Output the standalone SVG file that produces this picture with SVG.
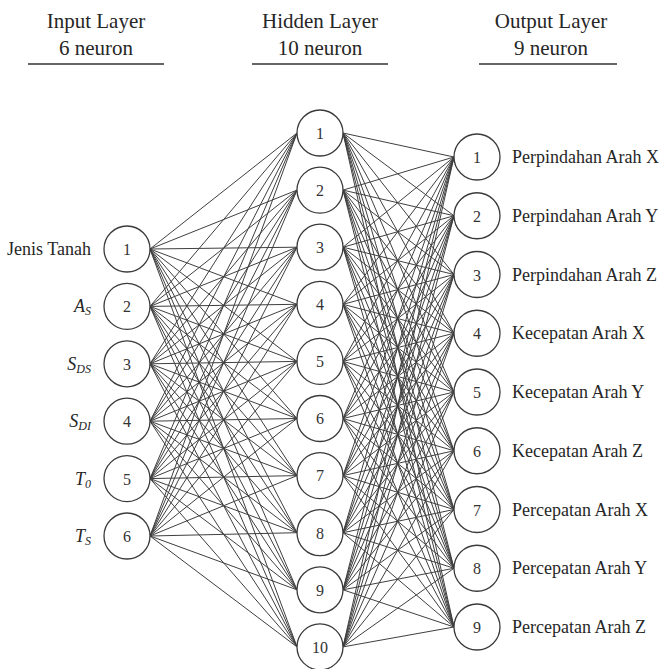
<svg xmlns="http://www.w3.org/2000/svg" width="663" height="669" viewBox="0 0 663 669">
  <style>
    text { font-family: "Liberation Serif", "Tinos", "DejaVu Serif", "Noto Serif", serif; }
    .hdr { font-size: 21px; fill: #262626; text-anchor: middle; }
    .rule { stroke: #333; stroke-width: 1.4; }
    .node circle { fill: #fff; stroke: #3a3a3a; stroke-width: 1.3; }
    .num { font-size: 16px; fill: #333; text-anchor: middle; }
    .lbl { font-size: 18px; fill: #262626; }
    .in { text-anchor: end; }
    .it { font-style: italic; }
    .sub { font-size: 12px; }
    .wire path { fill: none; stroke: #3f3f3f; stroke-width: 1; }
  </style>
  <rect width="663" height="669" fill="#fff"/>

  <!-- layer headings -->
  <g id="headings">
    <text class="hdr" x="96" y="28">Input Layer</text>
    <text class="hdr" x="96" y="55">6 neuron</text>
    <line class="rule" x1="28" y1="64" x2="164" y2="64"/>
    <text class="hdr" x="320" y="28">Hidden Layer</text>
    <text class="hdr" x="320" y="55">10 neuron</text>
    <line class="rule" x1="252" y1="64" x2="388" y2="64"/>
    <text class="hdr" x="551" y="28">Output Layer</text>
    <text class="hdr" x="551" y="55">9 neuron</text>
    <line class="rule" x1="479" y1="64" x2="617" y2="64"/>
  </g>

  <!-- connections: input -> hidden, hidden -> output -->
  <g id="connectors" class="wire">
    <path d="M150 249L297 133M150 249L297 190.1M150 249L297 247.2M150 249L297 304.3M150 249L297 361.4M150 249L297 418.5M150 249L297 475.6M150 249L297 532.7M150 249L297 589.8M150 249L297 646.9"/>
    <path d="M150 306.4L297 133M150 306.4L297 190.1M150 306.4L297 247.2M150 306.4L297 304.3M150 306.4L297 361.4M150 306.4L297 418.5M150 306.4L297 475.6M150 306.4L297 532.7M150 306.4L297 589.8M150 306.4L297 646.9"/>
    <path d="M150 363.8L297 133M150 363.8L297 190.1M150 363.8L297 247.2M150 363.8L297 304.3M150 363.8L297 361.4M150 363.8L297 418.5M150 363.8L297 475.6M150 363.8L297 532.7M150 363.8L297 589.8M150 363.8L297 646.9"/>
    <path d="M150 421.2L297 133M150 421.2L297 190.1M150 421.2L297 247.2M150 421.2L297 304.3M150 421.2L297 361.4M150 421.2L297 418.5M150 421.2L297 475.6M150 421.2L297 532.7M150 421.2L297 589.8M150 421.2L297 646.9"/>
    <path d="M150 478.6L297 133M150 478.6L297 190.1M150 478.6L297 247.2M150 478.6L297 304.3M150 478.6L297 361.4M150 478.6L297 418.5M150 478.6L297 475.6M150 478.6L297 532.7M150 478.6L297 589.8M150 478.6L297 646.9"/>
    <path d="M150 536L297 133M150 536L297 190.1M150 536L297 247.2M150 536L297 304.3M150 536L297 361.4M150 536L297 418.5M150 536L297 475.6M150 536L297 532.7M150 536L297 589.8M150 536L297 646.9"/>

    <path d="M343 133L454 157M343 133L454 215.75M343 133L454 274.5M343 133L454 333.25M343 133L454 392M343 133L454 450.75M343 133L454 509.5M343 133L454 568.25M343 133L454 627"/>
    <path d="M343 190.1L454 157M343 190.1L454 215.75M343 190.1L454 274.5M343 190.1L454 333.25M343 190.1L454 392M343 190.1L454 450.75M343 190.1L454 509.5M343 190.1L454 568.25M343 190.1L454 627"/>
    <path d="M343 247.2L454 157M343 247.2L454 215.75M343 247.2L454 274.5M343 247.2L454 333.25M343 247.2L454 392M343 247.2L454 450.75M343 247.2L454 509.5M343 247.2L454 568.25M343 247.2L454 627"/>
    <path d="M343 304.3L454 157M343 304.3L454 215.75M343 304.3L454 274.5M343 304.3L454 333.25M343 304.3L454 392M343 304.3L454 450.75M343 304.3L454 509.5M343 304.3L454 568.25M343 304.3L454 627"/>
    <path d="M343 361.4L454 157M343 361.4L454 215.75M343 361.4L454 274.5M343 361.4L454 333.25M343 361.4L454 392M343 361.4L454 450.75M343 361.4L454 509.5M343 361.4L454 568.25M343 361.4L454 627"/>
    <path d="M343 418.5L454 157M343 418.5L454 215.75M343 418.5L454 274.5M343 418.5L454 333.25M343 418.5L454 392M343 418.5L454 450.75M343 418.5L454 509.5M343 418.5L454 568.25M343 418.5L454 627"/>
    <path d="M343 475.6L454 157M343 475.6L454 215.75M343 475.6L454 274.5M343 475.6L454 333.25M343 475.6L454 392M343 475.6L454 450.75M343 475.6L454 509.5M343 475.6L454 568.25M343 475.6L454 627"/>
    <path d="M343 532.7L454 157M343 532.7L454 215.75M343 532.7L454 274.5M343 532.7L454 333.25M343 532.7L454 392M343 532.7L454 450.75M343 532.7L454 509.5M343 532.7L454 568.25M343 532.7L454 627"/>
    <path d="M343 589.8L454 157M343 589.8L454 215.75M343 589.8L454 274.5M343 589.8L454 333.25M343 589.8L454 392M343 589.8L454 450.75M343 589.8L454 509.5M343 589.8L454 568.25M343 589.8L454 627"/>
    <path d="M343 646.9L454 157M343 646.9L454 215.75M343 646.9L454 274.5M343 646.9L454 333.25M343 646.9L454 392M343 646.9L454 450.75M343 646.9L454 509.5M343 646.9L454 568.25M343 646.9L454 627"/>
  </g>

  <!-- input layer -->
  <g id="in1" class="node"><circle cx="127" cy="249" r="23"/><text class="num" x="127" y="255">1</text><text class="lbl in" x="91" y="255">Jenis Tanah</text></g>
  <g id="in2" class="node"><circle cx="127" cy="306.4" r="23"/><text class="num" x="127" y="312">2</text><text class="lbl in it" x="91" y="312">A<tspan class="sub" dy="3">S</tspan></text></g>
  <g id="in3" class="node"><circle cx="127" cy="363.8" r="23"/><text class="num" x="127" y="369.5">3</text><text class="lbl in it" x="91" y="369.5">S<tspan class="sub" dy="3">DS</tspan></text></g>
  <g id="in4" class="node"><circle cx="127" cy="421.2" r="23"/><text class="num" x="127" y="427">4</text><text class="lbl in it" x="91" y="427">S<tspan class="sub" dy="3">DI</tspan></text></g>
  <g id="in5" class="node"><circle cx="127" cy="478.6" r="23"/><text class="num" x="127" y="484.5">5</text><text class="lbl in it" x="91" y="484.5">T<tspan class="sub" dy="3">0</tspan></text></g>
  <g id="in6" class="node"><circle cx="127" cy="536" r="23"/><text class="num" x="127" y="542">6</text><text class="lbl in it" x="91" y="542">T<tspan class="sub" dy="3">S</tspan></text></g>

  <!-- hidden layer -->
  <g id="h1" class="node"><circle cx="320" cy="133" r="23"/><text class="num" x="320" y="139">1</text></g>
  <g id="h2" class="node"><circle cx="320" cy="190.1" r="23"/><text class="num" x="320" y="196">2</text></g>
  <g id="h3" class="node"><circle cx="320" cy="247.2" r="23"/><text class="num" x="320" y="253">3</text></g>
  <g id="h4" class="node"><circle cx="320" cy="304.3" r="23"/><text class="num" x="320" y="310">4</text></g>
  <g id="h5" class="node"><circle cx="320" cy="361.4" r="23"/><text class="num" x="320" y="367">5</text></g>
  <g id="h6" class="node"><circle cx="320" cy="418.5" r="23"/><text class="num" x="320" y="424">6</text></g>
  <g id="h7" class="node"><circle cx="320" cy="475.6" r="23"/><text class="num" x="320" y="481">7</text></g>
  <g id="h8" class="node"><circle cx="320" cy="532.7" r="23"/><text class="num" x="320" y="538.5">8</text></g>
  <g id="h9" class="node"><circle cx="320" cy="589.8" r="23"/><text class="num" x="320" y="595.5">9</text></g>
  <g id="h10" class="node"><circle cx="320" cy="646.9" r="23"/><text class="num" x="320" y="652.5">10</text></g>

  <!-- output layer -->
  <g id="out1" class="node"><circle cx="477" cy="157" r="23"/><text class="num" x="477" y="163">1</text><text class="lbl" x="512" y="163">Perpindahan Arah X</text></g>
  <g id="out2" class="node"><circle cx="477" cy="215.75" r="23"/><text class="num" x="477" y="221.5">2</text><text class="lbl" x="512" y="221.5">Perpindahan Arah Y</text></g>
  <g id="out3" class="node"><circle cx="477" cy="274.5" r="23"/><text class="num" x="477" y="280.5">3</text><text class="lbl" x="512" y="280.5">Perpindahan Arah Z</text></g>
  <g id="out4" class="node"><circle cx="477" cy="333.25" r="23"/><text class="num" x="477" y="339">4</text><text class="lbl" x="512" y="339">Kecepatan Arah X</text></g>
  <g id="out5" class="node"><circle cx="477" cy="392" r="23"/><text class="num" x="477" y="398">5</text><text class="lbl" x="512" y="398">Kecepatan Arah Y</text></g>
  <g id="out6" class="node"><circle cx="477" cy="450.75" r="23"/><text class="num" x="477" y="456.5">6</text><text class="lbl" x="512" y="456.5">Kecepatan Arah Z</text></g>
  <g id="out7" class="node"><circle cx="477" cy="509.5" r="23"/><text class="num" x="477" y="515.5">7</text><text class="lbl" x="512" y="515.5">Percepatan Arah X</text></g>
  <g id="out8" class="node"><circle cx="477" cy="568.25" r="23"/><text class="num" x="477" y="574">8</text><text class="lbl" x="512" y="574">Percepatan Arah Y</text></g>
  <g id="out9" class="node"><circle cx="477" cy="627" r="23"/><text class="num" x="477" y="633">9</text><text class="lbl" x="512" y="633">Percepatan Arah Z</text></g>
</svg>
